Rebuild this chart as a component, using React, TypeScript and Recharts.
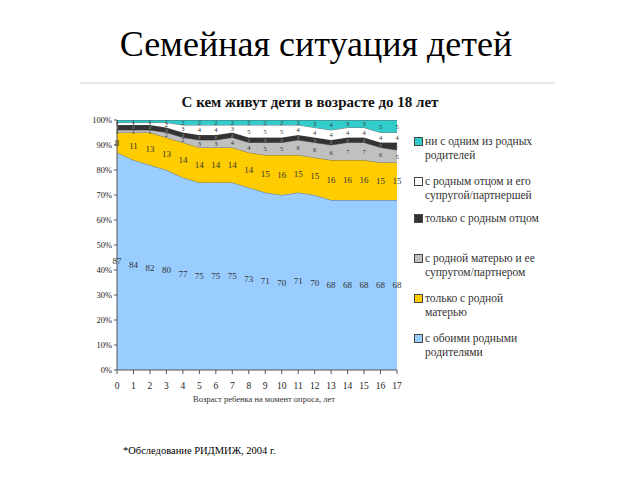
import React from "react";
import { ComposedChart, Area, Line, XAxis, YAxis, LabelList } from "recharts";

const ages = ["0","1","2","3","4","5","6","7","8","9","10","11","12","13","14","15","16","17"];
const bothParents = [87,84,82,80,77,75,75,75,73,71,70,71,70,68,68,68,68,68];
const motherOnly = [8,11,13,13,14,14,14,14,14,15,16,15,15,16,16,16,15,15];
const motherPartner = [1,1,1,2,2,3,3,4,4,5,5,6,6,6,7,7,6,5];
const fatherOnly = [2,2,2,2,2,2,2,2,2,2,2,2,2,2,2,2,2,3];
const fatherPartner = [1,1,1,2,3,4,4,3,5,5,5,4,4,4,4,4,4,4];
const noParents = [1,1,1,1,2,2,2,2,2,2,2,2,3,4,3,3,5,5];
const yTicks = [0,10,20,30,40,50,60,70,80,90,100];

const seriesDefs = [
  { key: "both", values: bothParents, fill: "#99CCFF", size: 9 },
  { key: "mother", values: motherOnly, fill: "#FFCC00", size: 9 },
  { key: "motherP", values: motherPartner, fill: "#C0C0C0", size: 6.5 },
  { key: "father", values: fatherOnly, fill: "#333333", size: 5 },
  { key: "fatherP", values: fatherPartner, fill: "#FFFFFF", size: 6.5 },
  { key: "none", values: noParents, fill: "#33CCCC", size: 6.5 },
];

const data = ages.map((age, i) => {
  const row: Record<string, number | string> = { age };
  let base = 0;
  seriesDefs.forEach((s) => {
    row[s.key] = s.values[i];
    row["mid_" + s.key] = base + s.values[i] / 2;
    base += s.values[i];
  });
  return row;
});

const serif = "'Liberation Serif', 'Times New Roman', 'DejaVu Serif', serif";

const legendItems = [
  { fill: "#33CCCC", lines: ["ни с одним из родных", "родителей"], top: 134 },
  { fill: "#FFFFFF", lines: ["с родным отцом и его", "супругой/партнершей"], top: 174 },
  { fill: "#333333", lines: ["только с родным отцом"], top: 211 },
  { fill: "#C0C0C0", lines: ["с родной матерью и ее", "супругом/партнером"], top: 251 },
  { fill: "#FFCC00", lines: ["только с родной", "матерью"], top: 291 },
  { fill: "#99CCFF", lines: ["с обоими родными", "родителями"], top: 331 },
];

const makeLabel = (color: string, size: number) => (props: any) => {
  const { x, y, value } = props;
  if (x == null || y == null) return null;
  return (
    <text x={x} y={y} dy={size * 0.35} textAnchor="middle" fontSize={size} style={{ fontFamily: serif }} fill={color}>
      {value}
    </text>
  );
};

export default function App() {
  return (
    <div style={{ position: "absolute", left: 0, top: 0, width: 640, height: 480, background: "#fff", fontFamily: serif }}>
      <div style={{ position: "absolute", left: 0, width: 632, top: 23, textAlign: "center", fontSize: 36, color: "#000", lineHeight: "42px" }}>
        Семейная ситуация детей
      </div>
      <div style={{ position: "absolute", left: 80, width: 475, top: 82, height: 2, background: "#e8e8e8" }} />
      <div style={{ position: "absolute", left: 80, width: 460, top: 94, textAlign: "center", fontSize: 15, fontWeight: "bold", color: "#111" }}>
        С кем живут дети в возрасте до 18 лет
      </div>
      <ComposedChart
        width={640}
        height={480}
        data={data}
        margin={{ top: 120, right: 243, bottom: 80, left: 80 }}
        style={{ position: "absolute", left: 0, top: 0, fontFamily: serif }}
      >
        <XAxis
          dataKey="age"
          type="category"
          tick={{ fontSize: 9.5, fill: "#222", style: { fontFamily: serif } }}
          tickLine={{ stroke: "#555" }}
          axisLine={{ stroke: "#555" }}
          tickSize={4}
          tickMargin={8}
          height={30}
          interval={0}
        />
        <YAxis
          type="number"
          domain={[0, 100]}
          ticks={yTicks}
          tickFormatter={(v: number) => v + "%"}
          tick={{ fontSize: 8.5, fill: "#222", style: { fontFamily: serif } }}
          tickLine={{ stroke: "#555" }}
          axisLine={{ stroke: "#555" }}
          tickSize={3}
          width={37}
          allowDataOverflow
        />
        {seriesDefs.map((s) => (
          <Area
            key={s.key}
            dataKey={s.key}
            stackId="1"
            type="linear"
            fill={s.fill}
            fillOpacity={1}
            stroke="#555"
            strokeWidth={0.8}
            isAnimationActive={false}
            dot={false}
            activeDot={false}
          />
        ))}
        {seriesDefs.map((s) => (
          <Line
            key={"l_" + s.key}
            dataKey={"mid_" + s.key}
            stroke="none"
            dot={false}
            activeDot={false}
            isAnimationActive={false}
          >
            <LabelList dataKey={s.key} content={makeLabel(s.key === "father" ? "#bbb" : "#333", s.size)} />
          </Line>
        ))}
      </ComposedChart>
      <div style={{ position: "absolute", left: 117, width: 294, top: 394, textAlign: "center", fontSize: 8.5, color: "#333" }}>
        Возраст ребенка на момент опроса, лет
      </div>
      {legendItems.map((it, i) => (
        <div key={i} style={{ position: "absolute", left: 414, top: it.top, fontSize: 11.5, lineHeight: "14px", color: "#333" }}>
          <div style={{ position: "absolute", left: 0, top: 3, width: 7, height: 7, background: it.fill, border: "1px solid #444" }} />
          <div style={{ marginLeft: 11 }}>
            {it.lines.map((l, j) => (
              <div key={j}>{l}</div>
            ))}
          </div>
        </div>
      ))}
      <div style={{ position: "absolute", left: 123, top: 445, fontSize: 10.5, color: "#000" }}>
        *Обследование РИДМИЖ, 2004 г.
      </div>
    </div>
  );
}
